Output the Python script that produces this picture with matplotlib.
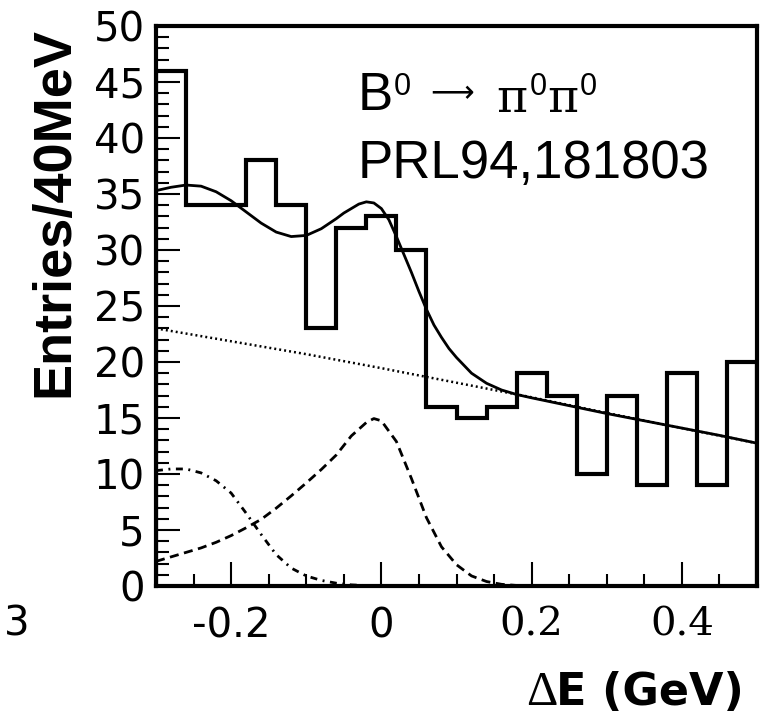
import matplotlib
matplotlib.use("Agg")
import matplotlib.pyplot as plt
import numpy as np
from matplotlib.ticker import MultipleLocator

plt.rcParams['lines.scale_dashes'] = False

# ---------------- data ----------------
bin_edges = [-0.30, -0.26, -0.22, -0.18, -0.14, -0.10, -0.06, -0.02, 0.02, 0.06,
             0.10, 0.14, 0.18, 0.22, 0.26, 0.30, 0.34, 0.38, 0.42, 0.46, 0.50]
entries = [46, 34, 34, 38, 34, 23, 32, 33, 30, 16,
           15, 16, 19, 17, 10, 17, 9, 19, 9, 20]

# total fit (solid)
x_total = [-0.30, -0.28, -0.26, -0.24, -0.22, -0.20, -0.18, -0.16, -0.14, -0.12,
           -0.10, -0.08, -0.06, -0.05, -0.04, -0.03, -0.02, -0.01, 0.00, 0.01,
           0.02, 0.03, 0.04, 0.05, 0.06, 0.07, 0.08, 0.09, 0.10, 0.12,
           0.14, 0.16, 0.18, 0.20, 0.25, 0.30, 0.35, 0.40, 0.45, 0.50]
y_total = [35.3, 35.6, 35.8, 35.7, 35.2, 34.4, 33.4, 32.4, 31.6, 31.2,
           31.3, 31.9, 32.8, 33.3, 33.7, 34.1, 34.3, 34.2, 33.7, 32.7,
           31.2, 29.6, 28.0, 26.3, 24.7, 23.3, 22.2, 21.2, 20.4, 19.0,
           18.1, 17.5, 17.1, 16.8, 16.1, 15.4, 14.75, 14.1, 13.45, 12.75]

# continuum background (dotted)
x_bkg = [-0.30, -0.20, -0.10, 0.00, 0.10, 0.20, 0.30, 0.40, 0.50]
y_bkg = [23.0, 21.85, 20.7, 19.45, 18.15, 16.85, 15.45, 14.1, 12.75]

# signal B0 -> pi0 pi0 (dashed)
x_sig = [-0.30, -0.28, -0.26, -0.24, -0.22, -0.20, -0.18, -0.16, -0.14, -0.12,
         -0.10, -0.08, -0.06, -0.04, -0.02, -0.01, 0.00, 0.02, 0.04, 0.06,
         0.08, 0.10, 0.12, 0.14, 0.16, 0.18, 0.20]
y_sig = [2.2, 2.6, 3.0, 3.4, 3.9, 4.5, 5.2, 5.95, 6.95, 8.05,
         9.2, 10.4, 11.7, 13.4, 14.6, 14.95, 14.75, 12.9, 9.6, 6.1,
         3.5, 1.9, 0.9, 0.4, 0.15, 0.05, 0.0]

# rho pi background (dash-dot)
x_rho = [-0.30, -0.28, -0.26, -0.24, -0.22, -0.20, -0.18, -0.16, -0.14, -0.12,
         -0.10, -0.08, -0.06, -0.04, -0.02, 0.00]
y_rho = [10.3, 10.45, 10.45, 10.1, 9.4, 8.3, 6.5, 4.6, 2.8, 1.6,
         0.9, 0.5, 0.25, 0.1, 0.04, 0.0]

x_ticks = [-0.2, 0.0, 0.2, 0.4]
x_tick_labels = ['-0.2', '0', '0.2', '0.4']
serif_x_labels = ['0.2', '0.4']
y_ticks = [0, 5, 10, 15, 20, 25, 30, 35, 40, 45, 50]
y_tick_labels = [str(v) for v in y_ticks]

W, H = 760, 719
fig = plt.figure(figsize=(W / 100, H / 100), dpi=100)
ax = fig.add_axes([156 / W, (H - 586) / H, (757 - 156) / W, (586 - 26) / H])

ax.stairs(entries, bin_edges, color='black', linewidth=3.0, baseline=0)
ax.plot(x_bkg, y_bkg, color='black', linewidth=1.8, linestyle=(0, (1.4, 2.2)))
ax.plot(x_sig, y_sig, color='black', linewidth=2.0, linestyle=(0, (6.5, 4.0)))
ax.plot(x_rho, y_rho, color='black', linewidth=2.0, linestyle=(0, (5, 4, 1.4, 4)))
ax.plot(x_total, y_total, color='black', linewidth=2.0, solid_capstyle='round')

ax.set_xlim(-0.3, 0.5)
ax.set_ylim(0, 50)

for s in ax.spines.values():
    s.set_linewidth(3.0)

ax.set_xticks(x_ticks, labels=x_tick_labels)
ax.set_yticks(y_ticks, labels=y_tick_labels)
ax.xaxis.set_minor_locator(MultipleLocator(0.05))
ax.yaxis.set_minor_locator(MultipleLocator(1))
ax.tick_params(which='both', direction='in', top=False, right=False, width=1.5, color='black')
ax.tick_params(which='major', length=17.5)
ax.tick_params(which='minor', length=9)
ax.tick_params(axis='x', which='major', pad=15)
ax.tick_params(axis='y', which='major', pad=8)

for lbl in ax.get_yticklabels():
    lbl.set_fontfamily('DejaVu Sans')
    lbl.set_fontsize(29)
for lbl in ax.get_xticklabels():
    lbl.set_fontsize(29)
    if lbl.get_text() in serif_x_labels:
        lbl.set_fontfamily('DejaVu Serif')
    else:
        lbl.set_fontfamily('DejaVu Sans')


def ftext(x, y, s, **kw):
    return fig.text(x / W, 1 - y / H, s, **kw)


# axis titles
ftext(68, 212, 'Entries/40MeV', rotation=90, rotation_mode='anchor', ha='center',
      va='baseline', fontfamily='Liberation Sans', fontweight='bold', fontsize=39)
ftext(526, 705, '\u0394', fontfamily='Liberation Serif', fontsize=35, va='baseline', ha='left')
ftext(556, 705, 'E (GeV)', fontfamily='DejaVu Sans', fontweight='bold', fontsize=32,
      va='baseline', ha='left')

# stray label from neighbouring panel
ftext(30, 635, '3', fontfamily='DejaVu Sans', fontsize=29, va='baseline', ha='right')

# annotation
ftext(358, 110, 'B', fontfamily='Liberation Sans', fontsize=38, va='baseline', ha='left')
ftext(394, 95, '0', fontfamily='Liberation Sans', fontsize=22, va='baseline', ha='left')
ftext(430, 102, '\u27f6', fontfamily='DejaVu Sans', fontsize=22, va='baseline', ha='left')
ftext(496, 112, '\u03c0', fontfamily='DejaVu Serif', fontsize=34, va='baseline', ha='left')
ftext(530, 95, '0', fontfamily='Liberation Sans', fontsize=22, va='baseline', ha='left')
ftext(547, 112, '\u03c0', fontfamily='DejaVu Serif', fontsize=34, va='baseline', ha='left')
ftext(580, 95, '0', fontfamily='Liberation Sans', fontsize=22, va='baseline', ha='left')
ftext(358, 178, 'PRL94,181803', fontfamily='Liberation Sans', fontsize=38, va='baseline', ha='left')

fig.savefig('out.png', dpi=100)
